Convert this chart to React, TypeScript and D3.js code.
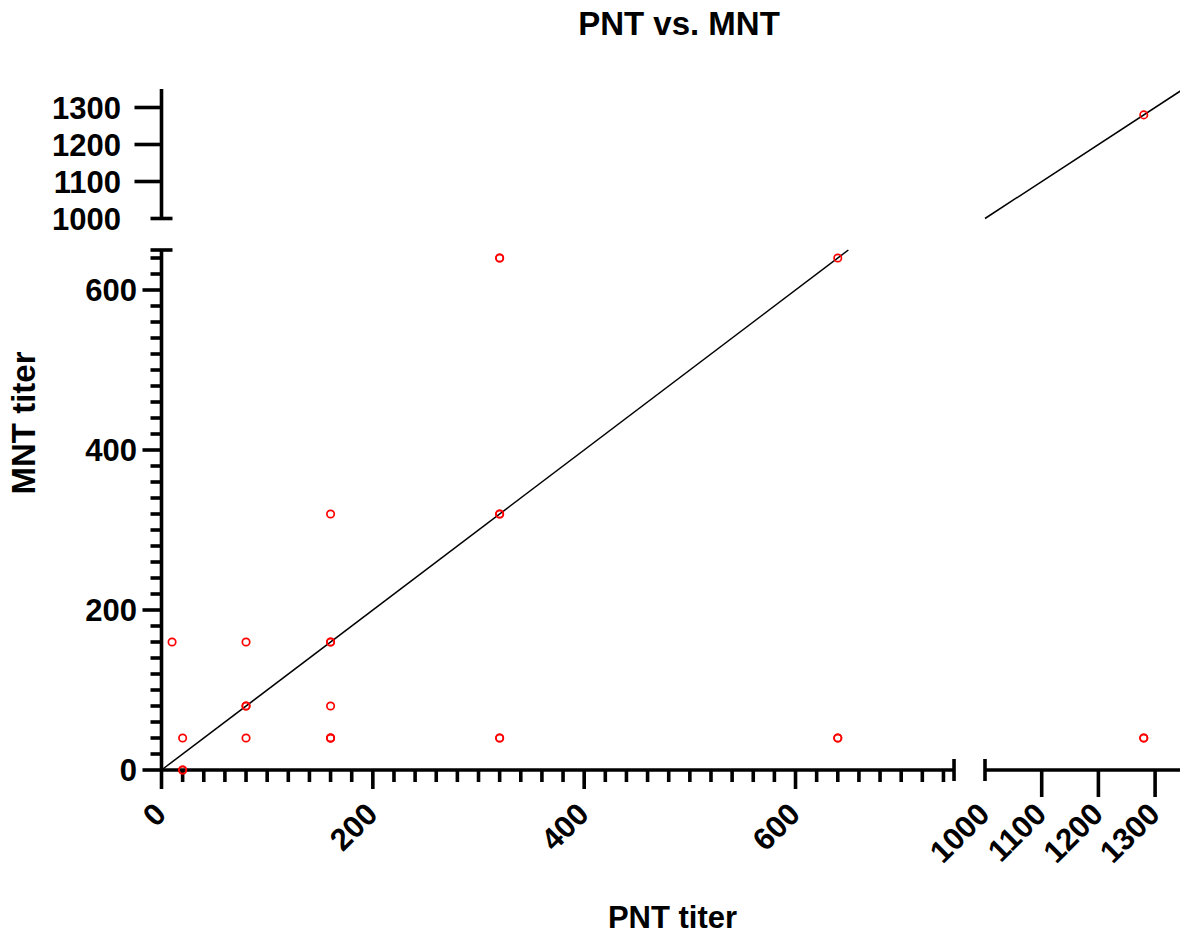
import React from "react";
import * as d3 from "d3";

// ---- data ----
const pntTiter = [10, 20, 20, 20, 80, 80, 80, 80, 160, 160, 160, 160, 160, 160, 160, 320, 320, 320, 320, 320, 320, 640, 640, 640, 1280, 1280, 1280];
const mntTiter = [160, 40, 0, 0, 160, 80, 80, 40, 320, 160, 160, 80, 40, 40, 40, 640, 640, 320, 320, 40, 40, 640, 40, 40, 1280, 40, 40];

const xLowTicks = [0, 200, 400, 600];
const xHighTicks = [1000, 1100, 1200, 1300];
const yLowTicks = [0, 200, 400, 600];
const yHighTicks = [1000, 1100, 1200, 1300];
const lowMinorStep = 20;

const title = "PNT vs. MNT";
const xTitle = "PNT titer";
const yTitle = "MNT titer";

// break segments
const xLowDomain = [0, 750];
const xHighDomain = [1000, 1350];
const yLowDomain = [0, 650];
const yHighDomain = [1000, 1350];

export default function App() {
  const W = 1180;
  const H = 934;
  const axisX = 161.5;
  const axisY = 770;

  const xLow = d3.scaleLinear().domain(xLowDomain).range([axisX, axisX + 750 * 1.0567]);
  const xHigh = d3.scaleLinear().domain(xHighDomain).range([985, 985 + 350 * 0.567]);
  const yLow = d3.scaleLinear().domain(yLowDomain).range([axisY, 250]);
  const yHigh = d3.scaleLinear().domain(yHighDomain).range([218.5, 89]);

  const xPos = (v: number) => (v <= xLowDomain[1] ? xLow(v) : xHigh(v));
  const yPos = (v: number) => (v <= yLowDomain[1] ? yLow(v) : yHigh(v));

  const xMinor = d3.range(0, xLowDomain[1], lowMinorStep).filter((v) => v % 200 !== 0);
  const yMinor = d3.range(0, yLowDomain[1], lowMinorStep).filter((v) => v % 200 !== 0);

  const axisW = 3.6;
  const font = "'Liberation Sans', Arial, Helvetica, sans-serif";
  const tickFs = 31;
  const cap = 11;

  const lineLow = d3.line<number>().x((d) => xLow(d)).y((d) => yLow(d));
  const lineHigh = d3.line<number>().x((d) => xHigh(d)).y((d) => yHigh(d));

  return (
    <svg
      width={W}
      height={H}
      style={{ position: "absolute", left: 0, top: 0, background: "#fff" }}
      fontFamily={font}
      fontWeight="bold"
    >
      <rect x={0} y={0} width={W} height={H} fill="#fff" />
      {/* title */}
      <text x={679} y={35} textAnchor="middle" fontSize={33}>
        {title}
      </text>
      <text x={672.5} y={928} textAnchor="middle" fontSize={31}>
        {xTitle}
      </text>
      <text transform={`translate(35,423) rotate(-90)`} textAnchor="middle" fontSize={33}>
        {yTitle}
      </text>

      {/* identity line */}
      <path d={lineLow([0, 650]) || ""} stroke="#000" strokeWidth={1.5} fill="none" />
      <path d={lineHigh([1000, 1350]) || ""} stroke="#000" strokeWidth={1.5} fill="none" />

      <g stroke="#000" strokeWidth={axisW} fill="none">
        {/* lower y axis */}
        <line x1={axisX} x2={axisX} y1={yLow(0)} y2={yLow(650)} />
        <line x1={axisX - cap} x2={axisX + cap} y1={yLow(650)} y2={yLow(650)} />
        {yLowTicks.map((t) => (
          <line key={"ylm" + t} x1={axisX - 19} x2={axisX} y1={yLow(t)} y2={yLow(t)} />
        ))}
        {yMinor.map((t) => (
          <line key={"ylmi" + t} x1={axisX - 11} x2={axisX} y1={yLow(t)} y2={yLow(t)} />
        ))}
        {/* upper y axis */}
        <line x1={axisX} x2={axisX} y1={yHigh(1000)} y2={yHigh(1350)} />
        <line x1={axisX - cap} x2={axisX + cap} y1={yHigh(1000)} y2={yHigh(1000)} />
        {yHighTicks
          .filter((t) => t !== 1000)
          .map((t) => (
            <line key={"yhm" + t} x1={axisX - 27} x2={axisX} y1={yHigh(t)} y2={yHigh(t)} />
          ))}
        {/* lower-left x axis */}
        <line x1={xLow(0)} x2={xLow(750)} y1={axisY} y2={axisY} />
        <line x1={xLow(750)} x2={xLow(750)} y1={axisY - cap} y2={axisY + cap} />
        {xLowTicks.map((t) => (
          <line key={"xlm" + t} x1={xLow(t)} x2={xLow(t)} y1={axisY} y2={axisY + 19} />
        ))}
        {xMinor.map((t) => (
          <line key={"xlmi" + t} x1={xLow(t)} x2={xLow(t)} y1={axisY} y2={axisY + 12} />
        ))}
        {/* right x axis */}
        <line x1={xHigh(1000)} x2={xHigh(1350)} y1={axisY} y2={axisY} />
        <line x1={xHigh(1000)} x2={xHigh(1000)} y1={axisY - cap} y2={axisY + cap} />
        {xHighTicks
          .filter((t) => t !== 1000)
          .map((t) => (
            <line key={"xhm" + t} x1={xHigh(t)} x2={xHigh(t)} y1={axisY} y2={axisY + 27} />
          ))}
      </g>

      {/* y tick labels */}
      <g fontSize={tickFs} textAnchor="end">
        {yLowTicks.map((t) => (
          <text key={"ylt" + t} x={137} y={yLow(t)} dy="0.36em">
            {t}
          </text>
        ))}
        {yHighTicks.map((t) => (
          <text key={"yht" + t} x={121} y={yHigh(t)} dy="0.36em">
            {t}
          </text>
        ))}
      </g>
      {/* x tick labels */}
      <g fontSize={tickFs} textAnchor="end">
        {xLowTicks.map((t) => (
          <text key={"xlt" + t} transform={`translate(${xLow(t) + 6.5},816) rotate(-45)`}>
            {t}
          </text>
        ))}
        {xHighTicks.map((t) => (
          <text key={"xht" + t} transform={`translate(${xHigh(t) + 6.5},816) rotate(-45)`}>
            {t}
          </text>
        ))}
      </g>

      {/* points */}
      <g fill="none" stroke="#ff0000" strokeWidth={1.7}>
        {pntTiter.map((p, i) => (
          <circle key={"pt" + i} cx={xPos(p)} cy={yPos(mntTiter[i])} r={3.7} />
        ))}
      </g>
    </svg>
  );
}
